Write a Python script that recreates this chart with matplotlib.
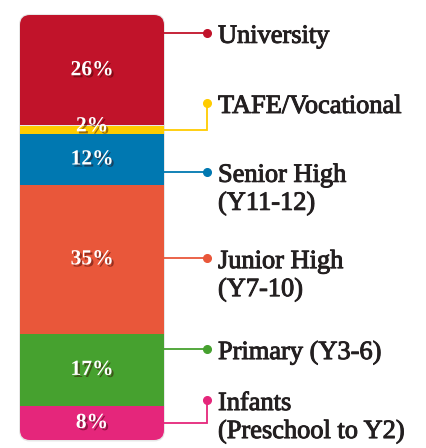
import matplotlib
matplotlib.use("Agg")
import matplotlib.pyplot as plt
from matplotlib.patches import FancyBboxPatch
import matplotlib.patheffects as pe

categories = ["University", "TAFE/Vocational", "Senior High\n(Y11-12)",
              "Junior High\n(Y7-10)", "Primary (Y3-6)", "Infants\n(Preschool to Y2)"]
values = [26, 2, 12, 35, 17, 8]
colors = ["#C1132A", "#FFCC00", "#0078B1", "#E9573A", "#46A12F", "#E5267B"]
pct_labels = ["26%", "2%", "12%", "35%", "17%", "8%"]
# connector / label anchor heights (percent scale)
label_y = [4.2, 20.7, 36.9, 57.2, 78.6, 90.6]

W, H = 427, 448
TOP_PX = 15
PX_PER = 4.25
BAR_X0, BAR_X1 = 20, 164
DOT_X = 207
TEXT_X = 218
LINE_PX = 28

fig = plt.figure(figsize=(W / 100, H / 100), dpi=100)
ax = fig.add_axes([0, 0, 1, 1])
ax.set_xlim(0, W)
ax.set_ylim((H - TOP_PX) / PX_PER, -TOP_PX / PX_PER)
ax.axis("off")

total = sum(values)
clip = FancyBboxPatch((BAR_X0, 0), BAR_X1 - BAR_X0, total,
                      boxstyle="round,pad=0,rounding_size=10",
                      mutation_aspect=1 / PX_PER, facecolor="none",
                      edgecolor="none", transform=ax.transData)
ax.add_patch(clip)
shadow = FancyBboxPatch((BAR_X0 - 1, -0.25), BAR_X1 - BAR_X0 + 2, total + 0.6,
                        boxstyle="round,pad=0,rounding_size=11",
                        mutation_aspect=1 / PX_PER, facecolor="#bbbbbb",
                        edgecolor="none", alpha=0.35, zorder=0)
ax.add_patch(shadow)

bottom = 0
text_font = "Liberation Serif"
txt_color = "#231F20"
for cat, v, c, pl, ly in zip(categories, values, colors, pct_labels, label_y):
    bars = ax.bar((BAR_X0 + BAR_X1) / 2, v, width=BAR_X1 - BAR_X0, bottom=bottom,
                  color=c, edgecolor="none", zorder=2)
    for b in bars:
        b.set_clip_path(clip)
    center = bottom + v / 2
    ty = center - (0.8 if v < 5 else 0)
    ax.text((BAR_X0 + BAR_X1) / 2, ty, pl, ha="center", va="center",
            fontsize=15.5, fontweight="bold", color="white", family=text_font,
            zorder=4,
            path_effects=[pe.withSimplePatchShadow(offset=(1.5, -1.5),
                                                   shadow_rgbFace=(0.2, 0, 0),
                                                   alpha=0.45)])
    # connector
    if bottom <= ly <= bottom + v:
        ax.plot([BAR_X1, DOT_X], [ly, ly], color=c, lw=1.3, zorder=3,
                solid_capstyle="butt")
    else:
        ax.plot([BAR_X1, DOT_X, DOT_X], [center, center, ly], color=c, lw=1.3,
                zorder=3, solid_joinstyle="miter")
    ax.plot([DOT_X], [ly], "o", color=c, ms=5.5, zorder=3)
    for i, line in enumerate(cat.split("\n")):
        ax.text(TEXT_X, ly + (10 + i * LINE_PX) / PX_PER, line, ha="left",
                va="baseline", fontsize=19, color=txt_color, family=text_font,
                path_effects=[pe.withStroke(linewidth=0.7, foreground=txt_color)])
    bottom += v

fig.savefig("out.png", dpi=100, facecolor="white")
